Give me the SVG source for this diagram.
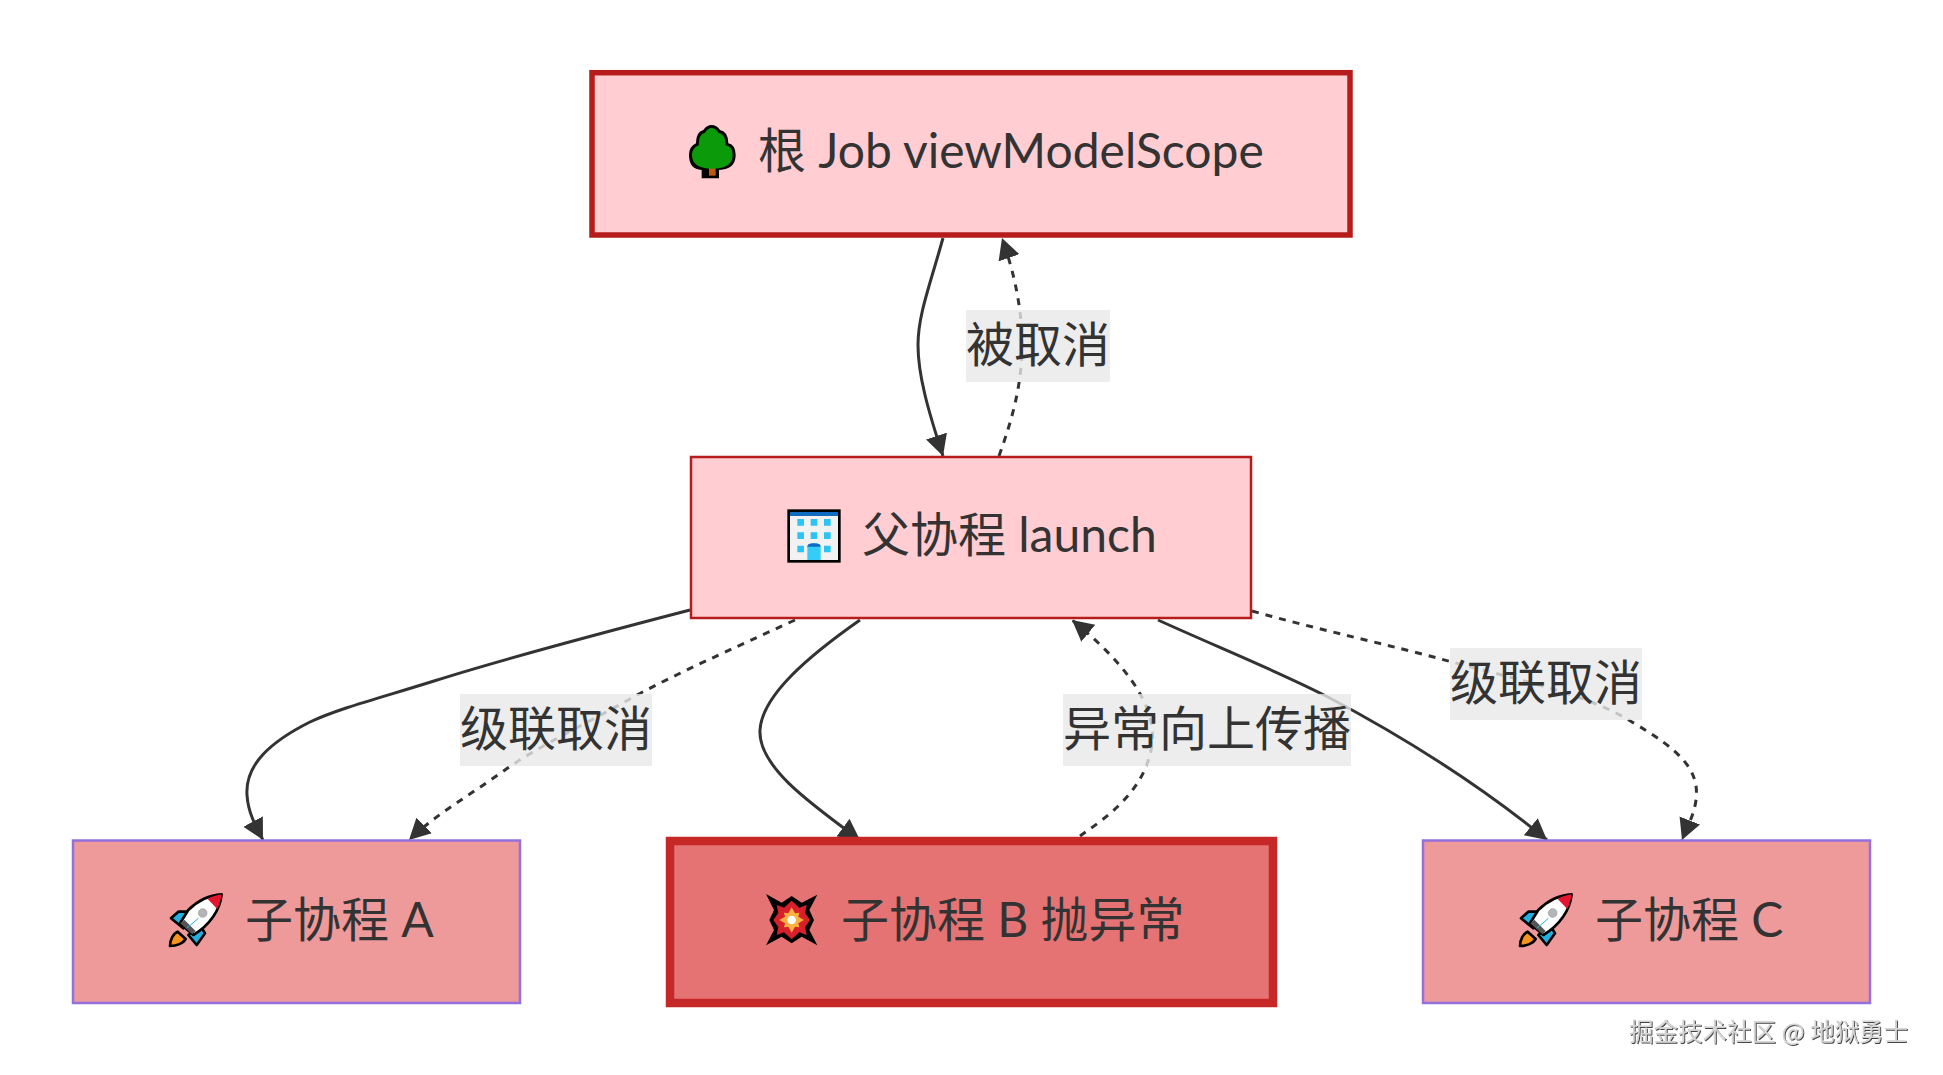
<svg xmlns="http://www.w3.org/2000/svg" width="1943" height="1075" viewBox="0 0 1943 1075">
<style>
.t{font-family:"Lato","Noto Sans CJK SC",sans-serif;font-size:48px;fill:#333}
.e{fill:none;stroke:#333;stroke-width:3}
.d{stroke-dasharray:7 7}
.lb{fill:#e8e8e8;fill-opacity:.8}
.root{fill:#ffcdd2;stroke:#b71c1c;stroke-width:5.5}
.par{fill:#ffcdd2;stroke:#b71c1c;stroke-width:2.5}
.ch{fill:#ef9a9a;stroke:#9370db;stroke-width:2.5}
.bad{fill:#e57373;stroke:#c62828;stroke-width:8.5}
.wm{font-family:"Noto Sans CJK SC",sans-serif;font-size:24.5px;fill:#d4d4d4;filter:url(#bev)}
</style>
<defs>
<marker id="a" markerUnits="userSpaceOnUse" markerWidth="24" markerHeight="24" refX="21" refY="11" orient="auto"><path d="M0,0L21,11L0,22z" fill="#333"/></marker>
<filter id="bev" x="-5%" y="-20%" width="110%" height="140%"><feDropShadow dx="1" dy="1" stdDeviation=".5" flood-color="#444"/></filter>
<g id="rocket">
<path d="M48,100L70,80L110,80L85,130z M135,120L150,145L125,180L100,150z" fill="#25aee0" stroke="#000" stroke-width="8" stroke-linejoin="round"/>
<path d="M45,183C45,165 55,145 68,140L92,162C85,175 65,183 45,183z" fill="#f7941d" stroke="#000" stroke-width="8" stroke-linejoin="round"/>
<path d="M200,28C165,30 130,45 100,75L75,115L115,150C165,120 195,75 200,28z" fill="#fff" stroke="#000" stroke-width="8" stroke-linejoin="round"/>
<path d="M200,28C185,30 170,35 158,42L187,72C194,58 198,42 200,28z" fill="#e3142d"/>
<path d="M76,115L88,104L122,138L112,148z" fill="#555"/>
<circle cx="143" cy="84" r="13" fill="#b5b5b5" stroke="#999" stroke-width="2"/>
<path d="M95,130L130,100" stroke="#25aee0" stroke-width="3"/>
</g>
</defs>
<rect width="1943" height="1075" fill="#fff"/>
<g id="connectors">
<path class="e" marker-end="url(#a)" d="M943,238C930,285 918,315 918,345C918,375 928,410 943,456"/>
<path class="e d" marker-end="url(#a)" d="M999,456C1012,420 1022,385 1022,345C1022,310 1015,275 1002,238"/>
<path class="e" marker-end="url(#a)" d="M690,610C590,636 500,660 434,681C380,698 340,708 310,722C270,742 245,765 247,795C248,812 255,825 263,840"/>
<path class="e d" marker-end="url(#a)" d="M795,620C730,650 680,672 637,695C590,722 540,745 505,770C470,795 435,815 409,840"/>
<path class="e" marker-end="url(#a)" d="M860,620C810,655 762,695 760,730C758,765 805,800 860,840"/>
<path class="e d" marker-end="url(#a)" d="M1080,836C1110,815 1145,790 1152,745C1158,700 1115,655 1072,620"/>
<path class="e" marker-end="url(#a)" d="M1158,620C1215,646 1275,670 1326,696C1400,735 1480,785 1547,840"/>
<path class="e d" marker-end="url(#a)" d="M1252,611C1320,630 1390,645 1452,662C1520,680 1590,695 1632,722C1680,750 1700,770 1696,800C1694,815 1688,825 1682,840"/>
</g>
<g id="node-root">
<rect class="root" x="592" y="72.7" width="758" height="162.3"/>
<g transform="translate(660,110) scale(.3333)">
<path d="M125,180V205H177V180Q227,178 227,135Q227,105 205,100Q205,65 180,60Q170,45 155,45Q140,45 130,60Q108,65 108,100Q87,110 87,135Q87,178 125,180z" fill="#000"/>
<path d="M147,172V197H167V172z" fill="#c1560f"/>
<path d="M157,176Q218,176 218,135Q218,110 197,106Q197,72 175,68Q167,54 155,54Q143,54 135,68Q116,72 116,106Q96,114 96,135Q96,176 157,176z" fill="#0a9a0a"/>
</g>
<text class="t" x="758" y="168">根 Job viewModelScope</text>
</g>
<g id="node-parent">
<rect class="par" x="691" y="457" width="560" height="161"/>
<g transform="translate(770,500) scale(.3333)">
<rect x="56" y="32" width="152" height="152" fill="#f2f2f2" stroke="#000" stroke-width="8"/>
<rect x="60" y="36" width="144" height="12" fill="#0f6cc0"/>
<path d="M82,57h20v20h-20zM122,57h20v20h-20zM162,57h20v20h-20zM82,97h20v20h-20zM122,97h20v20h-20zM162,97h20v20h-20zM82,137h20v20h-20zM162,137h20v20h-20z" fill="#2cc4f4"/>
<path d="M112,180V142Q112,130 132,130Q152,130 152,142V180z" fill="#35cdf8"/>
<path d="M112,140Q112,130 132,130Q152,130 152,140z" fill="#0f6cc0"/>
</g>
<text class="t" x="862" y="552">父协程 launch</text>
</g>
<g id="node-a">
<rect class="ch" x="73" y="840.5" width="447" height="162.5"/>
<use href="#rocket" transform="translate(155,885) scale(.3333)"/>
<text class="t" x="245" y="937">子协程 A</text>
</g>
<g id="node-b">
<rect class="bad" x="670" y="841" width="603" height="162"/>
<g transform="translate(760,890) scale(.3333)">
<path d="M18,12L65,38L95,18L125,38L172,14L148,60L162,90L148,120L172,166L125,140L95,160L65,140L18,166L42,120L28,90L42,60z" fill="#000"/>
<path d="M50,45L72,53L95,32L118,53L140,45L135,68L150,90L135,112L140,135L118,127L95,148L72,127L50,135L55,112L40,90L55,68z" fill="#d8202a"/>
<path d="M72,68L85,70L95,52L105,70L118,68L115,80L132,90L115,100L118,112L105,110L95,128L85,110L72,112L75,100L58,90L75,80z" fill="#fbb040"/>
<circle cx="95" cy="90" r="13" fill="#fff"/>
</g>
<text class="t" x="841" y="937">子协程 B 抛异常</text>
</g>
<g id="node-c">
<rect class="ch" x="1423" y="840.5" width="447" height="162.5"/>
<use href="#rocket" transform="translate(1505,885) scale(.3333)"/>
<text class="t" x="1595" y="937">子协程 C</text>
</g>
<g id="edge-labels">
<rect class="lb" x="966" y="310" width="144" height="72"/><text class="t" x="966" y="362">被取消</text>
<rect class="lb" x="460" y="694" width="192" height="72"/><text class="t" x="460" y="746">级联取消</text>
<rect class="lb" x="1063" y="694" width="288" height="72"/><text class="t" x="1063" y="746">异常向上传播</text>
<rect class="lb" x="1450" y="648" width="192" height="72"/><text class="t" x="1450" y="700">级联取消</text>
</g>
<text class="wm" x="1629" y="1041">掘金技术社区 @ 地狱勇士</text>
</svg>
